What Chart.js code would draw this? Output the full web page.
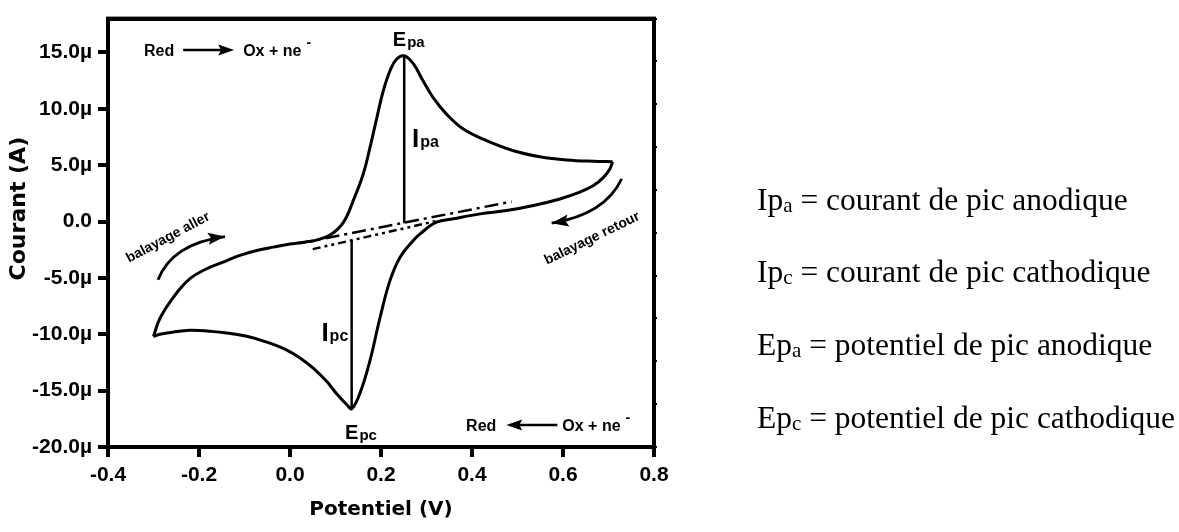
<!DOCTYPE html>
<html lang="fr">
<head>
<meta charset="UTF-8">
<title>Voltampérogramme cyclique</title>
<script src="https://cdn.jsdelivr.net/npm/chart.js"></script>
<style>
  html, body { margin: 0; padding: 0; background: #fff; }
  canvas { display: block; }
</style>
</head>
<body>
<canvas id="cv" width="1179" height="532"></canvas>
<script>
// potentiel (V) et courant (µA)
const fwdPotential = [-0.300, -0.286, -0.256, -0.220, -0.183, -0.147, -0.110, -0.073, -0.037, 0.000, 0.037, 0.051, 0.088, 0.117, 0.139, 0.161, 0.176, 0.191, 0.205, 0.220, 0.234, 0.251, 0.271, 0.292, 0.315, 0.344, 0.381, 0.432, 0.491, 0.549, 0.608, 0.667, 0.709];
const fwdCurrent   = [-10.2, -8.6, -6.7, -5.07, -4.19, -3.6, -3.0, -2.57, -2.27, -2.0, -1.8, -1.72, -1.2, -0.1, 1.86, 4.22, 6.6, 9.23, 11.6, 13.4, 14.4, 14.7, 14.0, 12.5, 10.97, 9.53, 8.2, 7.17, 6.28, 5.75, 5.46, 5.34, 5.31];

const revPotential = [0.709, 0.703, 0.689, 0.667, 0.637, 0.593, 0.535, 0.476, 0.418, 0.359, 0.322, 0.286, 0.271, 0.242, 0.220, 0.198, 0.176, 0.154, 0.136, 0.125, 0.103, 0.081, 0.051, 0.022, -0.007, -0.051, -0.095, -0.139, -0.183, -0.220, -0.256, -0.286, -0.300];
const revCurrent   = [5.31, 4.66, 3.92, 3.19, 2.6, 2.0, 1.42, 0.97, 0.68, 0.24, -0.06, -1.09, -1.68, -3.16, -5.2, -8.5, -12.3, -15.2, -16.6, -16.25, -15.3, -14.2, -13.0, -12.1, -11.4, -10.7, -10.18, -9.88, -9.7, -9.65, -9.8, -10.0, -10.2];

// lignes de base (tirets) et hauteurs de pic
const baseAnodicPotential = [0.02, 0.487];
const baseAnodicCurrent   = [-1.94, 1.77];
const baseCathodicPotential = [0.05, 0.322];
const baseCathodicCurrent   = [-2.45, 0.05];
const ipaPotential = [0.251, 0.251];
const ipaCurrent   = [-0.15, 14.7];
const ipcPotential = [0.1355, 0.1355];
const ipcCurrent   = [-1.68, -16.6];

const xTicks = [-0.4, -0.2, 0.0, 0.2, 0.4, 0.6, 0.8];
const xTickLabels = ['-0.4', '-0.2', '0.0', '0.2', '0.4', '0.6', '0.8'];
const yTicks = [-20, -15, -10, -5, 0, 5, 10, 15];
const yTickLabels = ['-20.0µ', '-15.0µ', '-10.0µ', '-5.0µ', '0.0', '5.0µ', '10.0µ', '15.0µ'];

const legendLines = [
  ['Ip', 'a', ' = courant de pic anodique'],
  ['Ip', 'c', ' = courant de pic cathodique'],
  ['Ep', 'a', ' = potentiel de pic anodique'],
  ['Ep', 'c', ' = potentiel de pic cathodique']
];

const toPoints = (xs, ys) => xs.map((v, i) => ({ x: v, y: ys[i] }));

const SANS = '"Liberation Sans", Arial, sans-serif';
const SERIF = '"Liberation Serif", "Times New Roman", serif';
const tickFont = { family: SANS, size: 21, weight: 'bold' };

function subLabel(ctx, main, sub, x, y, mainSize, subSize, drop) {
  ctx.font = 'bold ' + mainSize + 'px ' + SANS;
  ctx.fillText(main, x, y);
  const w = ctx.measureText(main).width;
  ctx.font = 'bold ' + subSize + 'px ' + SANS;
  ctx.fillText(sub, x + w + 1, y + drop);
}

function arrowHead(ctx, tx, ty, angle, len, half) {
  ctx.save();
  ctx.translate(tx, ty);
  ctx.rotate(angle);
  ctx.beginPath();
  ctx.moveTo(0, 0);
  ctx.lineTo(-len, -half);
  ctx.lineTo(-len + 3, 0);
  ctx.lineTo(-len, half);
  ctx.closePath();
  ctx.fill();
  ctx.restore();
}

function reaction(ctx, x, y, leftward) {
  ctx.font = 'bold 16px ' + SANS;
  ctx.fillText('Red', x, y);
  let cx = x + ctx.measureText('Red').width + (leftward ? 10 : 9);
  const ay = y - 6;
  const aLen = 51;
  ctx.lineWidth = 2.5;
  ctx.beginPath();
  if (leftward) { ctx.moveTo(cx + 10, ay); ctx.lineTo(cx + aLen, ay); }
  else { ctx.moveTo(cx, ay); ctx.lineTo(cx + aLen - 10, ay); }
  ctx.stroke();
  if (leftward) arrowHead(ctx, cx, ay, Math.PI, 16, 5.5);
  else arrowHead(ctx, cx + aLen, ay, 0, 16, 5.5);
  cx += aLen + (leftward ? 5 : 9);
  ctx.fillText('Ox + ne', cx, y);
  cx += ctx.measureText('Ox + ne').width + 5;
  ctx.font = 'bold 14px ' + SANS;
  ctx.fillText('-', cx, y - 9);
}

function curvedArrow(ctx, p0, p1, p2) {
  ctx.lineWidth = 2.8;
  ctx.beginPath();
  ctx.moveTo(p0[0], p0[1]);
  ctx.quadraticCurveTo(p1[0], p1[1], p2[0], p2[1]);
  ctx.stroke();
  arrowHead(ctx, p2[0], p2[1], Math.atan2(p2[1] - p1[1], p2[0] - p1[0]), 17, 6);
}

function rotatedText(ctx, text, x, y, deg) {
  ctx.save();
  ctx.translate(x, y);
  ctx.rotate(deg * Math.PI / 180);
  ctx.font = 'bold 14px ' + SANS;
  ctx.textAlign = 'center';
  ctx.textBaseline = 'middle';
  ctx.fillText(text, 0, 0);
  ctx.restore();
}

const annotations = {
  id: 'annotations',
  afterDatasetsDraw(chart) {
    const { ctx, chartArea: a, scales: { x, y } } = chart;
    const px = v => x.getPixelForValue(v);
    const py = v => y.getPixelForValue(v);
    ctx.save();
    ctx.fillStyle = '#000';
    ctx.strokeStyle = '#000';
    ctx.textBaseline = 'alphabetic';

    // cadre
    ctx.lineWidth = 4;
    ctx.strokeRect(a.left, a.top, a.right - a.left, a.bottom - a.top);

    subLabel(ctx, 'E', 'pa', px(0.226), py(15.6), 20, 15, 1);
    subLabel(ctx, 'I', 'pa', px(0.268), py(6.6), 26, 16, 0);
    subLabel(ctx, 'I', 'pc', px(0.069), py(-10.6), 26, 16, 0);
    subLabel(ctx, 'E', 'pc', px(0.121), py(-19.3), 20, 15, 1);

    reaction(ctx, px(-0.321), py(14.69), false);
    reaction(ctx, px(0.387), py(-18.58), true);

    curvedArrow(ctx, [px(-0.290), py(-5.16)], [px(-0.259), py(-1.95)], [px(-0.143), py(-1.33)]);
    curvedArrow(ctx, [px(0.729), py(3.78)], [px(0.692), py(0.62)], [px(0.575), py(-0.15)]);
    rotatedText(ctx, 'balayage aller', px(-0.268), py(-1.42), -28);
    rotatedText(ctx, 'balayage retour', px(0.664), py(-1.5), -26);

    // titre de l'axe vertical
    ctx.save();
    ctx.translate(25, a.top + 190);
    ctx.rotate(-Math.PI / 2);
    ctx.font = 'bold 22px "DejaVu Sans", sans-serif';
    ctx.textAlign = 'center';
    ctx.fillText('Courant (A)', 0, 0);
    ctx.restore();

    // légende à droite
    legendLines.forEach((parts, i) => {
      let lx = a.right + 103;
      const ly = py(1.06 - i * 6.46);
      ctx.font = '31.5px ' + SERIF;
      ctx.fillText(parts[0], lx, ly);
      lx += ctx.measureText(parts[0]).width;
      ctx.font = '21px ' + SERIF;
      ctx.fillText(parts[1], lx, ly + 2);
      lx += ctx.measureText(parts[1]).width;
      ctx.font = '31.5px ' + SERIF;
      ctx.fillText(parts[2], lx, ly);
    });
    ctx.restore();
  }
};

const curveStyle = { borderColor: '#000', pointRadius: 0, fill: false };

new Chart(document.getElementById('cv'), {
  type: 'line',
  data: {
    datasets: [
      { ...curveStyle, data: toPoints(fwdPotential, fwdCurrent), borderWidth: 3, tension: 0.4 },
      { ...curveStyle, data: toPoints(revPotential, revCurrent), borderWidth: 3, tension: 0.4 },
      { ...curveStyle, data: toPoints(baseAnodicPotential, baseAnodicCurrent), borderWidth: 2.5, borderDash: [14, 5, 3, 5] },
      { ...curveStyle, data: toPoints(baseCathodicPotential, baseCathodicCurrent), borderWidth: 2.5, borderDash: [8, 4, 3, 4, 3, 4] },
      { ...curveStyle, data: toPoints(ipaPotential, ipaCurrent), borderWidth: 2.5 },
      { ...curveStyle, data: toPoints(ipcPotential, ipcCurrent), borderWidth: 2.5 }
    ]
  },
  options: {
    responsive: false,
    animation: false,
    layout: { padding: 0 },
    plugins: { legend: { display: false }, tooltip: { enabled: false } },
    scales: {
      x: {
        type: 'linear', position: 'bottom', min: -0.4, max: 0.8,
        afterBuildTicks: s => { s.ticks = xTicks.map(v => ({ value: v })); },
        afterFit: s => { s.height = 85; },
        ticks: { callback: v => xTickLabels[xTicks.indexOf(v)], font: tickFont, color: '#000', padding: 6, maxRotation: 0, autoSkip: false },
        grid: { drawOnChartArea: false, tickLength: 10, lineWidth: 4, tickWidth: 4, tickColor: '#000' },
        border: { width: 4, color: '#000' },
        title: { display: true, text: 'Potentiel (V)', color: '#000', font: { family: '"DejaVu Sans", sans-serif', size: 20, weight: 'bold' }, padding: { top: 0, bottom: 10 } }
      },
      xTop: {
        type: 'linear', position: 'top', min: -0.4, max: 0.8,
        afterFit: s => { s.height = 18; },
        ticks: { display: false },
        grid: { display: false },
        border: { width: 4, color: '#000' }
      },
      y: {
        type: 'linear', position: 'left', min: -20, max: 18,
        afterBuildTicks: s => { s.ticks = yTicks.map(v => ({ value: v })); },
        afterFit: s => { s.width = 108; },
        ticks: { callback: v => yTickLabels[yTicks.indexOf(v)], font: tickFont, color: '#000', padding: 6 },
        grid: { drawOnChartArea: false, tickLength: 10, lineWidth: 4, tickWidth: 4, tickColor: '#000' },
        border: { width: 4, color: '#000' }
      },
      yRight: {
        type: 'linear', position: 'right', min: 0, max: 10,
        afterFit: s => { s.width = 525; },
        ticks: { display: false, stepSize: 1 },
        grid: { drawOnChartArea: false, tickLength: 3, lineWidth: 2, tickWidth: 2, tickColor: '#000' },
        border: { width: 4, color: '#000' }
      }
    }
  },
  plugins: [annotations]
});
</script>
</body>
</html>
